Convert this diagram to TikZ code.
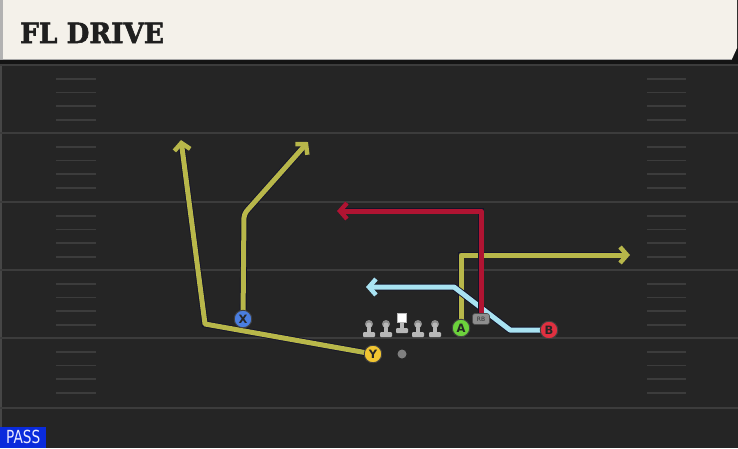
\documentclass[tikz,border=0pt]{standalone}
\usepackage{fontspec}
\setmainfont{DejaVu Sans}
\newfontfamily\titlefont[BoldFeatures={FakeBold=2}]{DejaVu Serif}
\usetikzlibrary{arrows.meta}
\pgfdeclarelayer{field}
\pgfdeclarelayer{routes}
\pgfsetlayers{field,routes,main}
\definecolor{fieldbg}{HTML}{252525}
\definecolor{fieldline}{HTML}{3C3C3C}
\definecolor{headerbg}{HTML}{F4F1EA}
\definecolor{routeyel}{HTML}{B8B74A}
\definecolor{routered}{HTML}{B01432}
\definecolor{routeblue}{HTML}{A9E3F2}
\definecolor{routeedge}{HTML}{14142A}
\definecolor{pblue}{HTML}{4A7EE0}
\definecolor{pyellow}{HTML}{F2C531}
\definecolor{pgreen}{HTML}{6CD23C}
\definecolor{pred}{HTML}{E03040}
\definecolor{lmgray}{HTML}{B8B8B8}
\definecolor{lmhead}{HTML}{8E8E8E}
\definecolor{passblue}{HTML}{0A2BDC}
\tikzset{
  route/.style={line width=5pt, line join=round, preaction={draw=routeedge, line width=6.8pt}},
  tipped/.style={-{Straight Barb[length=7pt,width=16pt,line width=4.5pt]}},
  player/.style={circle, draw=black!75, line width=0.9pt, minimum size=17.5pt, inner sep=0pt,
    font=\bfseries\fontsize{11.5}{11.5}\selectfont, text=black!85},
  rbtag/.style={rounded corners=2.5pt, fill=lmhead, draw=black!70, line width=0.6pt,
    minimum width=17pt, minimum height=11pt, inner sep=0pt, font=\fontsize{6}{6}\selectfont, text=black!80},
  fieldrule/.style={draw=fieldline, line width=2.5pt},
  hashmark/.style={draw=fieldline, line width=1.6pt},
  lineman/.pic={
    \fill[lmgray, rounded corners=1pt] (-6,8) rectangle (6,13);
    \fill[lmgray] (-2.4,0) rectangle (2.4,9);
    \fill[lmhead] (0,0) circle (4);
    \fill[lmgray] (0,1.3) circle (2.8);
  },
  centerman/.pic={
    \fill[lmgray, rounded corners=1pt] (-6,6) rectangle (6,11);
    \fill[lmgray] (-2.4,-1) rectangle (2.4,7);
    \filldraw[fill=white, draw=lmgray, line width=0.8pt] (-4.6,-8.5) rectangle (4.6,0);
  }
}
\begin{document}
\begin{tikzpicture}[x=1pt,y=-1pt]
\useasboundingbox (0,0) rectangle (738,448);
\begin{pgfonlayer}{field}
  \fill[black!92] (0,0) rectangle (738,64);
  \fill[fieldbg] (0,64) rectangle (738,448);
  \fill[fieldbg!85!white] (0,64) rectangle (2,448);
  \foreach \y in {65,133,202,270,338,408}
    \draw[fieldrule] (0,\y) -- (738,\y);
  \foreach \y in {65,133,202,270,338}
    \foreach \d in {13.7,27.4,41.1,54.8}{
      \draw[hashmark] (56,\y+\d) -- (96,\y+\d);
      \draw[hashmark] (647,\y+\d) -- (686,\y+\d);
    }
  \fill[headerbg] (0,0) -- (737,0) -- (737,48) -- (732,59) -- (0,59) -- cycle;
  \fill[black!30] (0,0) rectangle (3,59);
  \draw[black!35, line width=0.8pt] (0,59) -- (732,59);
\end{pgfonlayer}

\node[anchor=base west, inner sep=0pt, text=black!88] (title) at (20,43)
  {\titlefont\bfseries\fontsize{28}{28}\selectfont\scalebox{0.94}[1]{FL DRIVE}};

\node[player, fill=pblue] (X) at (243,319) {X};
\node[player, fill=pyellow] (Y) at (373,354) {Y};
\node[player, fill=pgreen] (A) at (461,328) {A};
\node[player, fill=pred] (B) at (549,330) {B};
\node[rbtag] (RB) at (481,319) {RB};
\node[circle, fill=black!50, minimum size=9pt, inner sep=0pt] (ball) at (402,354) {};

\pic (LT) at (369,324) {lineman};
\pic (LG) at (386,324) {lineman};
\pic (C) at (402,322) {centerman};
\pic (RG) at (418,324) {lineman};
\pic (RT) at (435,324) {lineman};

\coordinate (y1) at (205,324);
\coordinate (y2) at (181,140);
\coordinate (x1) at (244,214);
\coordinate (x2) at (308,142);
\coordinate (r1) at (481,211);
\coordinate (r2) at (337,211);
\coordinate (a1) at (461,255);
\coordinate (a2) at (630,255);
\coordinate (b1) at (510,330);
\coordinate (b2) at (454,287);
\coordinate (b3) at (366,287);

\begin{pgfonlayer}{routes}
  \draw[route, tipped, routeyel] (Y.center) -- (y1) -- (y2);
  \draw[route, tipped, routeyel, rounded corners=4pt] (X.center) -- (x1) -- (x2);
  \draw[route, tipped, routeyel] (A.center) -- (a1) -- (a2);
  \draw[route, tipped, routeblue] (B.center) -- (b1) -- (b2) -- (b3);
  \draw[route, tipped, routered] (RB.center) -- (r1) -- (r2);
\end{pgfonlayer}

\node[fill=passblue, anchor=south west, minimum width=46pt, minimum height=21pt, inner sep=0pt,
  text=white!92!blue, font=\fontsize{18}{18}\selectfont] (pass) at (0,448) {\raisebox{-0.5pt}{\scalebox{0.76}[1]{PASS}}};
\end{tikzpicture}
\end{document}
